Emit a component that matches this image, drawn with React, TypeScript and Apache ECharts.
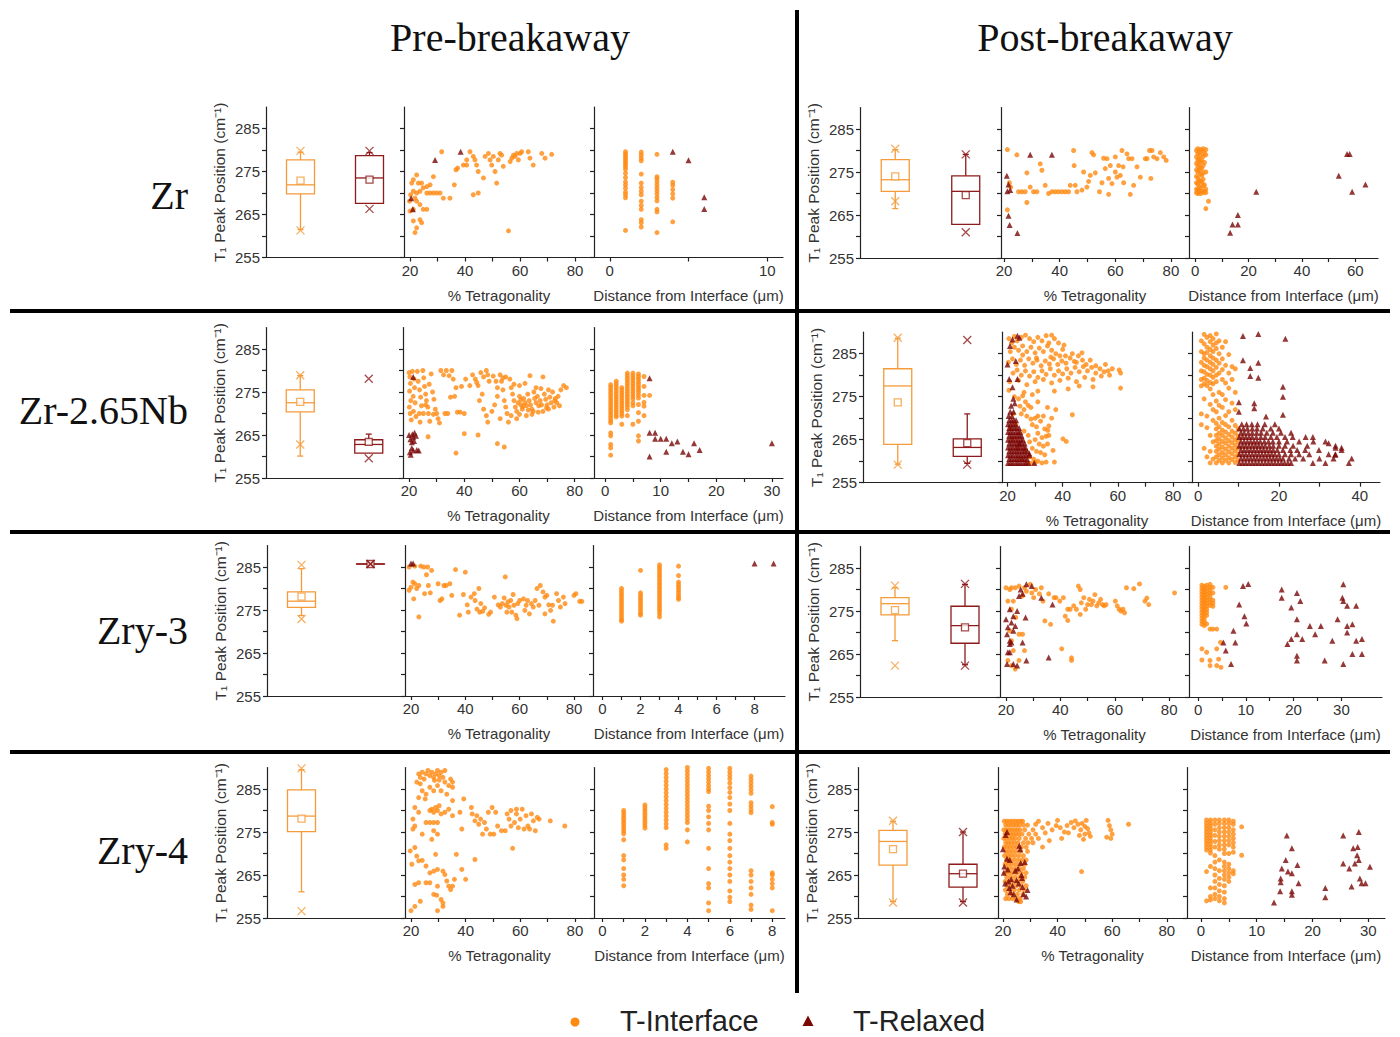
import React, { useEffect, useRef } from 'react';
import * as echarts from 'echarts';

type P = [number, number];
type Col = [number, number[]];
type Row = [number, number[]];

const cols = (c: Col[]): P[] => c.flatMap(([x, ys]) => ys.map((y) => [x, y] as P));
const rows = (r: Row[]): P[] => r.flatMap(([y, xs]) => xs.map((x) => [x, y] as P));

// ---------- titles / labels ----------
const columnTitles = ['Pre-breakaway', 'Post-breakaway'];
const alloyNames = ['Zr', 'Zr-2.65Nb', 'Zry-3', 'Zry-4'];
const legendNames = ['T-Interface', 'T-Relaxed'];
const yLabelValues = [255, 265, 275, 285];
const yTickValues = [255, 260, 265, 270, 275, 280, 285];
const tetLabelValues = [20, 40, 60, 80];
const tetTickValues = [20, 30, 40, 50, 60, 70, 80];

// box stats: [lowWhisker, q1, median, q3, highWhisker, mean, minX, maxX]
const zrPreBoxI = [261.5, 269.8, 271.9, 277.7, 279.5, 272.9, 261.3, 279.8];
const zrPreBoxR = [267.6, 267.6, 273.5, 278.7, 279.4, 273.1, 266.3, 279.8];
const zrPostBoxI = [266.5, 270.5, 273.2, 277.9, 280.2, 274.0, 268.2, 280.4];
const zrPostBoxR = [262.8, 262.8, 270.5, 274.1, 279.1, 269.6, 261.0, 279.1];
const nbPreBoxI = [260.1, 270.4, 272.5, 275.5, 278.8, 272.7, 262.8, 278.9];
const nbPreBoxR = [260.8, 260.8, 262.8, 263.9, 265.2, 263.4, 259.6, 278.1];
const nbPostBoxI = [259.3, 263.9, 277.5, 281.5, 288.6, 273.7, 259.2, 288.7];
const nbPostBoxR = [259.5, 261.1, 263.2, 265.2, 271.0, 264.2, 259.2, 288.2];
const zry3PreBoxI = [273.7, 275.6, 277.05, 279.2, 284.6, 278.1, 272.9, 285.5];
const zry3PreBoxR = [285.7, 285.7, 285.7, 285.7, 285.7, 285.7, 285.7, 285.7];
const zry3PostBoxI = [268.1, 274.1, 276.7, 278.1, 280.4, 275.2, 262.3, 280.9];
const zry3PostBoxR = [262.5, 267.5, 271.6, 276.1, 281.2, 271.2, 262.3, 281.3];
const zry4PreBoxI = [261.1, 275.1, 278.7, 284.8, 289.5, 278.1, 256.6, 289.8];
const zry4PostBoxI = [258.8, 267.3, 272.8, 275.4, 277.5, 271.0, 258.6, 277.6];
const zry4PostBoxR = [258.8, 262.2, 265.3, 267.5, 275.0, 265.3, 258.6, 275.0];

// ---------- Zr pre ----------
const zrPreTetI: P[] = [
  [20, 265.8], [21.2, 266.2], [19.8, 268.1], [20.2, 269.6], [21.2, 270.4], [22.4, 270], [23.6, 270.4], [20.6, 272.3], [21.2, 273.1], [22.4, 274.2],
  [23, 272.3], [24.2, 272.3], [24.8, 271.2], [26.1, 270], [27.3, 270], [28.5, 270], [29.7, 270], [30.9, 270], [27.3, 271.9], [26.1, 271.5],
  [21.8, 268.8], [22.4, 268.1], [23.6, 267.3], [24.8, 266.2], [26.1, 266.2], [21.2, 263.5], [23.6, 263.8], [24.2, 263.1], [22.4, 261.9], [21.8, 260.8],
  [28.5, 273.8], [32.1, 268.8], [34.5, 268.8], [36.1, 271.9], [36.7, 275.4], [31.5, 279.6], [39.4, 276.5], [40.6, 277.7], [41.8, 279.6], [43, 278.5],
  [43.6, 277.7], [44.2, 276.5], [44.8, 275], [43, 269.6], [44.8, 270], [46.7, 273.5], [47.3, 278.5], [48.5, 279.2], [49.1, 277.7], [49.7, 276.5],
  [50.3, 278.5], [50.9, 275], [51.5, 272.3], [52.1, 277.7], [52.7, 279.2], [53.3, 278.8], [53.9, 276.2], [55.8, 261.2], [56.4, 277.3], [57, 278.1],
  [57.6, 278.8], [58.2, 278.5], [58.8, 279.2], [59.4, 277.7], [60, 279.2], [60.6, 279.6], [63, 279.6], [63.6, 278.1], [64.8, 276.5], [67.9, 279.2],
  [69.1, 278.1], [71.5, 279], [40.6, 276.5], [37.3, 275.8],
];
const zrPreTetR: P[] = [[29.1, 277.7], [38.4, 279.6], [20.4, 268.8], [21, 266.2]];
const zrPreDistI: P[] = cols([
  [1, [279.6, 279.1, 278.6, 278.1, 277.6, 277.1, 276.6, 276.1, 275.5, 274.6, 273.6, 272.6, 271.9, 271.1, 270.2, 269.6, 268.9, 261.3]],
  [2, [279.5, 278.8, 278.1, 277.5, 274.4, 272.3, 271.3, 270.4, 269.6, 268.1, 267.1, 266.2, 263.8, 263.1, 262.1]],
  [3, [279, 273.8, 273.3, 272.6, 271.9, 271.2, 270.5, 269.8, 269, 268.2, 266.2, 265.6, 260.8]],
  [4, [272.5, 271.8, 270.8, 269.8, 268.8, 263.3]],
]);
const zrPreDistR: P[] = [[4, 279.6], [5, 277.6], [6, 269], [6, 266.3]];

// ---------- Zr post ----------
const zrPostTetI: P[] = [
  [21.2, 280.2], [21.9, 272.5], [22.4, 271.5], [21.2, 266.2], [24.6, 279], [25.2, 270.4], [26.4, 270.4], [27.6, 270.4], [28.2, 274.8], [28.2, 267.9],
  [29.4, 271.5], [30.6, 270.4], [31.8, 270.4], [33, 276.9], [33.6, 275.4], [34.8, 271.9], [36, 270], [37.2, 270.4], [38.4, 270.4], [39.6, 270.4],
  [40.8, 270.4], [42, 270.4], [43.2, 270.4], [43.8, 271.9], [45, 280], [45.2, 276.5], [45.6, 271.9], [46.2, 270.4], [48, 270.8], [48.6, 275],
  [49.8, 271.5], [50.4, 272.8], [51, 274.2], [51.6, 279.5], [52.2, 279], [52.8, 274.8], [54.3, 270.4], [55.2, 272.5], [55.8, 278.2], [56.4, 275.8],
  [57, 278.1], [57.6, 273.5], [57.6, 269.8], [58.2, 276.5], [58.8, 272.3], [60, 275], [60.6, 273.8], [61.2, 276.5], [61.8, 274.2], [62.4, 280],
  [62.8, 276.2], [63, 272.5], [64.2, 279.2], [64.8, 278.1], [65.4, 269.8], [66, 278.1], [66.6, 271.9], [67.8, 276.2], [69, 273.8], [71.4, 278.1],
  [72.3, 280], [73.2, 280], [72.8, 273.5], [73.8, 278.5], [75, 278.1], [76.2, 279.5], [77.4, 278.5], [78.3, 277.7], [70.8, 278.1], [60, 278.5],
];
const zrPostTetR: P[] = [[21, 274.1], [21.6, 272.1], [22.2, 270.8], [21.6, 264.8], [22, 262.7], [24.8, 260.8], [29.4, 279], [37.2, 279], [21.2, 270.5]];
const zrPostDistI: P[] = cols([
  [0.5, [280, 278.5, 277, 275.5, 274, 272.5, 271, 270.2]],
  [1, [280.4, 279.2, 277.8, 276.3, 275, 273.6, 272.2, 270.8, 270]],
  [1.5, [279.6, 278, 276.8, 275.3, 273, 271.6, 270.4]],
  [2, [280.2, 278.8, 277.4, 276, 274.5, 272.9, 271.3, 270]],
  [2.5, [279.8, 277.7, 275.8, 274.2, 272.6, 270.6]],
  [3, [280.4, 278.6, 276.5, 274.8, 273.3, 271.8, 270.2]],
  [3.5, [279.4, 277.2, 272, 270.5]],
  [4, [280.2, 279, 275, 271, 270.2, 266.5]],
  [5, [268.2]],
]);
const zrPostDistR: P[] = [[13.1, 260.9], [14, 262.8], [16, 262.8], [16, 265], [22.9, 270.4], [53.8, 274.1], [56.9, 279.2], [57.9, 279.2], [58.8, 270.4], [63.8, 272.1]];

// ---------- Zr-2.65Nb pre ----------
const nbPreTetI: P[] = [
  [20, 279.5], [20.3, 278.5], [20.5, 277], [20.2, 275.2], [20.6, 273], [20.1, 271.5], [20.4, 270], [20.8, 268.5], [21.2, 279.8], [21.8, 278],
  [22, 276], [21.5, 274], [22.2, 272.5], [21.6, 270.5], [22.5, 269.3], [23, 279.8], [23.3, 277.5], [23.8, 275.5], [24.2, 273.8], [24.5, 271.8],
  [23.7, 270], [24, 268], [25, 280], [25.3, 278.3], [25.6, 276.3], [26, 274.5], [26.3, 273], [26.8, 271.5], [27, 270], [27.5, 268.2],
  [28, 279.2], [27.3, 276.8], [28.5, 275], [29, 273.3], [29.5, 271], [30, 270], [30.5, 268.8], [31, 267.8], [28.8, 269.8], [26, 272],
  [25.2, 270], [26.9, 264.6], [31.5, 280], [32.5, 279], [33.5, 280], [34.5, 278.8], [35.5, 280], [36, 278], [37, 276], [36.5, 274],
  [35, 273.8], [34, 270], [33, 270], [37.5, 270.3], [38.5, 270.3], [40, 270], [39, 276.3], [40.5, 278], [42, 276.5], [43, 279],
  [44, 278], [44.5, 277.2], [45, 276.5], [46, 279.5], [47, 278.5], [48, 280], [48.5, 279], [49, 277.5], [46.5, 274.5], [45.5, 273],
  [47, 271], [48, 269.5], [48.5, 268], [50, 270.5], [51, 272], [52, 274], [50.5, 278.7], [51.5, 277.5], [52, 276], [53, 279],
  [53.5, 277.5], [54, 275.5], [54.5, 273], [55, 271.5], [55.5, 270], [56, 268], [54, 278.3], [55, 278.5], [56.5, 278], [57, 276],
  [57.5, 274.5], [58, 273], [58.5, 271.5], [59, 270.5], [59.5, 272.5], [60, 274], [60.5, 272], [61, 271], [61.5, 273.5], [62, 272.5],
  [62.5, 271.8], [63, 274.5], [63.5, 273], [64, 272], [64.5, 271], [65, 270.5], [65.5, 273.5], [66, 272.5], [66.5, 274], [67, 271.8],
  [67.5, 273], [68, 272], [68.5, 270.5], [69, 274.5], [69.5, 273.3], [70, 272], [70.5, 271], [71, 273.8], [71.5, 272.5], [72, 275],
  [72.5, 271.5], [73, 273.5], [73.5, 272.5], [74, 274], [74.5, 271.8], [75, 275.5], [76, 276.5], [77, 276], [63.8, 278.8], [68.5, 278.5],
  [66, 276], [62, 277], [60, 276.5], [58, 276.8], [64.5, 269.8], [57, 269.5], [60, 269.8], [62.5, 269.5], [59, 268.8], [70.5, 275.5],
  [53, 268.8], [40, 265.3], [45, 265], [52, 263], [54.5, 262.2], [37, 260.8], [60.5, 273.2], [61.2, 271.6], [63.2, 270.8], [66.8, 270.3],
  [69.8, 271.3], [72.8, 273], [65.2, 275], [67.8, 275.8],
];
const nbPreTetR: P[] = [
  [20, 265], [20.5, 264], [21, 263.3], [21.5, 264.5], [22, 265.5], [22.5, 264.8], [21, 262], [20.3, 261], [21.5, 261.4], [22.8, 261.5],
  [23.5, 261.4], [20.6, 260.4], [21.8, 263.6], [21.5, 278.5], [21.2, 265.2],
];
const nbPreDistI: P[] = cols([
  [1, [276.7, 276.1, 275.5, 274.9, 274.3, 273.7, 273.1, 272.5, 271.9, 271.3, 270.7, 270.1, 269.5, 268.9, 268.3, 267.8, 265.5, 264.8, 262.8, 262, 260.3]],
  [2, [277.5, 276.9, 276.3, 275.7, 275.1, 274.5, 273.9, 273.3, 272.7, 272.1, 271.5, 270.9, 270.3, 269.7, 269.2]],
  [3, [276, 275.4, 274.8, 274.2, 273.6, 273, 272.4, 271.8, 271.2, 270.6, 270, 269.4, 267.5]],
  [4, [279.4, 278.8, 278.2, 277.6, 277, 276.4, 275.8, 275.2, 274.6, 274, 273.4, 272.8, 272.2, 271.6, 270.9, 269.5]],
  [5, [279.4, 278.8, 278.2, 277.6, 277, 276.4, 275.8, 275.2, 274.6, 274, 273.4, 272.5, 271.8, 267.5]],
  [6, [279.2, 278.6, 278, 277.4, 276.8, 276.2, 275.6, 275, 274.3, 273.6, 272.1, 270.2, 268.2, 264.8, 263.6]],
  [7, [278.6, 276.3, 274.2, 272.6, 271.7, 269.5]],
  [8, [274.2]],
]);
const nbPreDistR: P[] = [
  [8, 278.2], [8, 265.5], [9, 265.5], [9, 264.1], [10, 264.1], [11, 264.1], [12, 263.1], [13, 263.5], [16, 263.1], [17, 261.5],
  [11, 261.1], [14, 261.1], [15, 260.5], [8, 260], [30, 263.1],
];

// ---------- Zr-2.65Nb post ----------
const nbPostTetI: P[] = [
  [20.5, 288.5], [21.5, 287.5], [22.5, 289], [23.5, 288], [25, 288.8], [26.5, 289.3], [28, 288.5], [29.5, 287.8], [31, 288.8], [32.5, 288],
  [34, 289.2], [36, 289.3], [37, 288.5], [38.5, 287.5], [40, 286], [21, 285.5], [22.5, 286.5], [24, 285.8], [25.5, 286.8], [27, 285.5],
  [28.5, 286.5], [30, 285.2], [31.5, 286.3], [33, 285.5], [34.5, 286.8], [36, 285.8], [37.5, 285], [39, 284.5], [20.3, 283], [21.8, 283.8],
  [23.2, 282.5], [24.7, 283.5], [26.2, 282.3], [27.7, 283.8], [29.2, 282.8], [30.7, 283.5], [32.2, 282.2], [33.7, 283.3], [35.2, 282.6], [36.7, 283.8],
  [38.2, 282.5], [39.7, 283.3], [41.2, 282.8], [42.7, 284], [44.2, 283.2], [45.7, 284.5], [47.2, 283.5], [48.5, 282.5], [50, 283.5], [22, 280.5],
  [23.5, 281.2], [25, 280], [26.5, 281], [28, 279.8], [29.5, 280.8], [31, 279.5], [32.5, 281], [34, 280.2], [35.5, 281.5], [37, 280],
  [38.5, 281], [40, 280.3], [41.5, 281.5], [43, 280.5], [44.5, 281.8], [46, 280.8], [47.5, 282], [49, 281], [50.5, 281.8], [52, 280.5],
  [53.5, 281.5], [55, 280.8], [56.5, 281], [20.8, 278.5], [24, 278.8], [27, 277.8], [30, 278.5], [33, 279], [36, 278.2], [39, 278.8],
  [42, 279.3], [45, 278.5], [48, 279.5], [51, 279], [54, 279.8], [57, 280], [60.5, 281.2], [61, 280.5], [61, 277], [20.5, 276.5],
  [26, 276], [31, 276.3], [37, 276.3], [42, 276.8], [46, 277.5], [51, 277.3], [41, 284.5], [43.5, 285], [40.5, 287], [45, 283],
  [52, 282.2], [55.5, 282.5], [58, 281.5], [47, 285.2], [35, 287.5], [25.5, 284.7], [30.5, 284], [35.7, 284.2],
  [22.5, 275], [24, 274.5], [25.5, 275.2], [26.5, 273.8], [24.5, 272.8], [26, 272], [27.5, 273], [28.5, 272.5], [25, 271], [27, 270.5],
  [28.5, 269.8], [30, 270], [31, 270.5], [29, 268.5], [30.5, 268], [32, 269.3], [33.5, 267.5], [31, 266.5], [32.5, 265.5], [34, 265.8],
  [35, 266], [30, 265], [31.5, 264], [33, 263.5], [34.5, 264], [29, 263], [30.5, 262.3], [32, 262], [33.5, 261.5], [28, 261],
  [29.5, 260.5], [31, 260], [32.5, 259.6], [34, 259.8], [27, 259.6], [28.5, 259.5], [30, 259.7], [35, 268.2], [36, 270], [34.6, 267.2],
  [37.5, 272], [40.1, 265.2], [41.3, 264.6], [43.5, 270.8], [36.5, 262.5], [37, 259.8], [22, 271], [23, 268.5], [21, 267.5], [26, 267],
  [27.5, 266], [28, 264.5], [26.5, 262.5], [25, 260.5], [23.5, 263], [22, 265.2], [33, 270.5], [34.5, 272.5], [29, 275.5], [31, 273.8],
];
const nbPostTetR: P[] = [
  ...rows([
    [259.6, [20.2, 21.1, 22.0, 23.0, 23.9, 24.8, 25.8, 26.7, 27.6, 29.7]],
    [260.5, [20.6, 21.5, 22.5, 23.4, 24.3, 25.3, 26.2, 27.1]],
    [261.4, [20.2, 21.1, 22.0, 23.0, 23.9, 24.8, 25.8, 26.7, 27.9]],
    [262.3, [20.6, 21.5, 22.5, 23.4, 24.3, 25.3, 26.2, 27.2]],
    [263.2, [20.2, 21.1, 22.0, 23.0, 23.9, 24.8, 25.8, 26.5]],
    [264.1, [20.6, 21.5, 22.5, 23.4, 24.3, 25.3, 26.2]],
    [265.0, [20.2, 21.1, 22.0, 23.0, 23.9, 24.8, 25.6]],
    [265.9, [20.6, 21.5, 22.5, 23.4, 24.3, 25.1]],
    [266.8, [20.2, 21.1, 22.0, 23.0, 23.9, 24.6]],
    [267.7, [20.6, 21.5, 22.5, 23.3, 24.2]],
    [268.6, [20.2, 21.1, 22.0, 23.0]],
    [269.5, [20.6, 21.5, 22.3, 23.1]],
    [270.5, [20.4, 21.6]],
    [271.5, [21.0, 22.2]],
  ]),
  [20.9, 286.8], [21.8, 288.3], [23.6, 289.2], [24.3, 288.7], [20, 282.5], [23, 283.3], [20.6, 279.1], [23.6, 279.1], [21.8, 277.2], [22.1, 274.5],
  [21.3, 272.9], [27.9, 261.8], [24.3, 264.1], [22.6, 273.5],
];
const nbPostDistI: P[] = cols([
  [0.8, [288, 285.5, 283, 281, 279, 277.5, 271, 268.5]],
  [1.5, [289.5, 287.3, 285, 284, 282.3, 280.8, 279.3, 278, 274.5, 263]],
  [2.2, [288.8, 286.5, 285.3, 283.5, 282, 280.2, 278.8, 277.6, 270.5, 267.8, 261]],
  [3.0, [289.2, 287.8, 286, 284.5, 283, 281.5, 280, 278.3, 276.8, 273.2, 266, 262.3, 259.6]],
  [3.7, [288.5, 287, 285.5, 284, 282.5, 281, 279.5, 278, 275.5, 272, 269.5, 264.5, 260.5]],
  [4.5, [289.6, 287.5, 286.2, 283.5, 281.8, 280, 278.5, 274, 271.5, 268.8, 267.5, 266, 264.8, 263.5, 262.3, 261, 259.6]],
  [5.2, [288, 285, 282.8, 280.5, 276, 273, 270, 268, 266.5, 265.2, 264, 262.8, 261.5, 260.2]],
  [6.0, [286.5, 283.8, 281.3, 279, 275.5, 272.5, 269, 267.2, 266, 264.6, 263.3, 262, 260.8, 259.6]],
  [6.8, [287.8, 282.3, 278.2, 274.3, 270.6, 268.5, 266.8, 265.4, 264.2, 262.8, 261.5, 260.2]],
  [7.6, [284.8, 280.5, 277, 271.5, 268, 266.2, 264.8, 263.5, 262.2, 260.8, 259.6]],
  [8.4, [282, 279, 273.5, 269.5, 267, 265.6, 264.3, 263, 261.7, 260.4]],
  [9.2, [281.5, 276, 272, 268.3, 266.5, 265, 263.7, 262.4, 261, 259.7]],
  [9.9, [267.5, 265.8, 264.5, 263, 261.6, 260.2]],
]);
const nbPostDistR: P[] = [
  ...rows([
    [259.6, [10.2, 11, 11.8, 12.6, 13.4, 14.2, 15, 15.8, 16.6, 17.4, 18.2, 19, 19.8, 20.6, 21.4, 22.2, 23, 28.4, 31.5, 37.3]],
    [260.6, [10.6, 11.4, 12.2, 13, 13.8, 14.6, 15.4, 16.2, 17, 17.8, 18.6, 19.4, 20.2, 21, 22.5, 24, 26, 30, 33.5, 38]],
    [261.6, [10.2, 11, 11.8, 12.6, 13.4, 14.2, 15, 15.8, 16.6, 17.4, 18.2, 19, 20, 21.5, 23, 25, 27.5, 32.3, 34]],
    [262.6, [10.6, 11.4, 12.2, 13, 13.8, 14.6, 15.4, 16.2, 17, 17.8, 18.6, 19.6, 21, 22.8, 24.5, 26.5, 29.9, 35.5]],
    [263.6, [10.2, 11, 11.8, 12.6, 13.4, 14.2, 15, 15.8, 16.6, 17.6, 18.6, 20, 21.5, 23.5, 27, 34]],
    [264.6, [10.6, 11.4, 12.2, 13, 13.8, 14.6, 15.4, 16.4, 17.4, 18.5, 20, 22, 25, 28.5, 31.5]],
    [265.6, [10.2, 11, 11.8, 12.6, 13.4, 14.4, 15.5, 16.6, 18, 19.5, 21.5, 23.4, 26.6, 28.4]],
    [266.6, [10.6, 11.4, 12.4, 13.4, 14.5, 15.6, 17, 18.5, 20.5, 23]],
    [267.6, [10.2, 11.2, 12.2, 13.4, 14.6, 16, 18, 20]],
    [268.6, [10.8, 12, 13.3, 14.7, 16.5, 19]],
  ]),
  [11.1, 289.1], [14.9, 289.6], [21.6, 288.5], [11.1, 283.5], [14.9, 282.9], [12.9, 281.7], [12.9, 279.8], [14.9, 279.4], [21, 277.3], [21, 275],
  [10.1, 273.7], [13.9, 273.5], [13.9, 272.3], [10.1, 271.5], [16.8, 270.4], [21, 270.8], [32.3, 264.2], [34, 263.1], [35.5, 263.1], [33.9, 261.5],
];

// ---------- Zry-3 pre ----------
const zry3PreTetI: P[] = [
  [19.3, 285], [21.4, 285.2], [23.6, 285.2], [24.7, 285], [19.3, 279.6], [20, 280.3], [20.7, 281.5], [21.4, 281.1], [22.1, 280], [22.9, 280.7],
  [21, 277.6], [22.9, 273.4], [25.7, 283.2], [26.1, 285], [26.4, 280.7], [25, 278.8], [27.1, 279], [27.6, 284.2], [30, 281.1], [32.1, 280.7],
  [30.7, 277.2], [31.4, 277.6], [32.9, 280.7], [34.3, 281.1], [36.4, 284.4], [35, 278.4], [37.9, 273.8], [39.3, 278.6], [40, 283.8], [40.7, 276.2],
  [41.1, 274.5], [42.1, 278], [43.3, 278.8], [43.6, 277.2], [44.3, 275.2], [45, 280], [45.7, 276.5], [45.3, 274.5], [46.4, 274.7], [47.1, 275.5],
  [48.6, 274], [49.3, 274.5], [50.7, 278], [52.1, 276.2], [52.9, 275.7], [53.6, 276.5], [54.3, 277.8], [54.7, 282.7], [55, 276.1], [55.3, 274.5],
  [55.7, 276.9], [56.1, 275.7], [56.7, 277.2], [57.1, 274.5], [57.6, 278.6], [57.9, 276.1], [58.6, 273.8], [59, 273], [59.3, 276.5], [60, 277.2],
  [61.4, 277.6], [61.9, 274.9], [62.4, 276.1], [62.9, 277.2], [63.6, 274.1], [64.3, 276.5], [65, 275.7], [65.7, 277.2], [66.4, 280], [67.1, 276.1],
  [67.6, 280.7], [68.6, 279.2], [69.3, 274.1], [70, 278.4], [70.7, 276.2], [71.4, 274.9], [72.1, 276.1], [72.4, 272.4], [73.6, 278.8], [74.3, 277.2],
  [75, 275.7], [76.1, 278], [76.7, 276.5], [80, 278.4], [80.7, 278.8], [82.1, 277], [82.9, 277], [69.3, 278],
];
const zry3PreTetR: P[] = [[20, 285.8], [20.8, 285.8]];
const zry3PreDistI: P[] = cols([
  [1, [280, 279.4, 278.8, 278.2, 277.6, 277, 276.4, 275.8, 275.2, 274.6, 274, 273.4, 272.8, 272.4]],
  [2, [284.2, 279, 278.4, 277.8, 277.2, 276.6, 276, 275.4, 274.8, 274.2, 273.8]],
  [3, [285.5, 284.9, 284.3, 283.7, 283.1, 282.5, 281.9, 281.3, 280.7, 280.1, 279.5, 278.9, 278.3, 277.7, 277.1, 276.5, 275.9, 275.3, 274.7, 274.1, 273.4]],
  [4, [285.2, 283, 281.5, 280.9, 280.3, 279.7, 279.1, 278.5, 277.9, 277.5]],
]);
const zry3PreDistR: P[] = [[8, 285.8], [9, 285.8]];

// ---------- Zry-3 post ----------
const zry3PostTetI: P[] = [
  [20, 280.4], [20.7, 277.3], [21.4, 280], [22, 280.4], [22.7, 277.3], [23.4, 280.4], [24.8, 280.8], [26.1, 278.5], [26.8, 280.4], [27.5, 279.6],
  [28.9, 281.2], [29.5, 279.2], [30.2, 278.1], [30.9, 280], [32.3, 279], [33, 280.4], [33.6, 277.3], [34.3, 272.7], [35.7, 279], [36.4, 271.9],
  [37.7, 278.1], [38.4, 278.1], [39.8, 277.3], [40.5, 266.2], [41.1, 278.1], [41.8, 273.8], [42.7, 275.4], [42.7, 272.8], [43.6, 275.4], [44.1, 264.1],
  [44.1, 263.5], [44.9, 276.2], [45.9, 275.4], [46.6, 280.8], [47.3, 280], [47.3, 274.2], [47.7, 276.9], [48.6, 278.1], [49.3, 275.4], [50, 276.5],
  [50.7, 277.7], [51.4, 276.5], [52, 277.3], [52.7, 278.8], [53.4, 276.2], [54.1, 276.9], [54.8, 277.7], [55.5, 276.5], [56.1, 276.2], [56.8, 276.5],
  [60.2, 277.3], [60.9, 276.2], [61.6, 275.4], [62.3, 275], [63, 275.4], [63.6, 274.6], [64.3, 280.4], [67, 280.2], [69.1, 281.3], [71.1, 277.3],
  [71.8, 278], [72.5, 276.5], [82, 279.2], [22, 275.4], [21.4, 270.4], [22, 268.1], [22.7, 265.8], [20.7, 263.5], [22, 262.3], [23.4, 261.5],
  [24.8, 263.5], [23.6, 273.5], [26.1, 269.6], [26.8, 265.8], [24.8, 269.6],
];
const zry3PostTetR: P[] = [
  [20, 273.1], [20.4, 269.6], [20.7, 271.2], [21.4, 267.3], [21.4, 265.4], [20.4, 262.7], [22, 272.3], [22.7, 273.8], [22.7, 270.4], [23.4, 271.5],
  [24.1, 275], [24.8, 278.5], [25.4, 280], [26.1, 279], [27.5, 281.2], [29.5, 280.8], [21.4, 268.1], [22, 267.7], [22.7, 262.7], [24.1, 262.3],
  [26.1, 267.7], [27.2, 273.5], [27.5, 263.5], [35.7, 264.2], [33, 278.1], [37.1, 276.5], [21.4, 275.4], [20.7, 265.4],
];
const zry3PostDistI: P[] = [
  ...cols([
    [0.8, [281, 280.3, 279.6, 278.9, 278.2, 277.5, 276.8, 276.1, 275.4, 274.7, 274, 273.3, 272.6, 271.9, 266.2, 263.6]],
    [1.3, [280.7, 280, 279.3, 278.6, 277.9, 277.2, 276.5, 275.8, 275.1, 274.4, 273.7, 273, 272.3, 271.6]],
    [1.8, [281, 280.3, 279.6, 278.9, 278.2, 277.5, 276.8, 276.1, 275.4, 274.7, 274, 272, 265.4]],
    [2.5, [281.2, 280.5, 279.8, 279.1, 278.4, 277.7, 277, 276.3, 270.8, 263.5, 262.3]],
    [3.1, [280.5, 279.2, 277.5, 276.8, 276.1, 270.8]],
  ]),
  [3.9, 262.3], [4.3, 263.8], [3.9, 266.2], [4.7, 267.7], [4.8, 261.9], [3.9, 270.8], [5.8, 280.5],
];
const zry3PostDistR: P[] = [
  [9.4, 280.8], [10.5, 281.3], [8.6, 276.5], [9.7, 273.8], [10.1, 272.1], [7.4, 270.4], [7.8, 267.7], [5.3, 267.7], [5.8, 265.8], [6.9, 262.7],
  [17.5, 280], [17.5, 278.1], [19.5, 275.8], [20.7, 279.2], [21.4, 277.3], [20.7, 273.1], [19.5, 268.5], [18.7, 267.3], [20.7, 269.6], [21.8, 268.5],
  [20.7, 264.6], [20.7, 263.5], [23.4, 271.5], [25.7, 271.5], [24.5, 269.6], [26.5, 263.5], [28.1, 268.1], [29.2, 273.1], [30.2, 278.1], [30.4, 281.2],
  [30.4, 277.3], [31.2, 276.2], [31.2, 271.5], [31.2, 270], [32.3, 271.9], [33.1, 276.2], [30.4, 262.7], [32.3, 265], [33.1, 268.1], [34.3, 268.5],
  [34.3, 265],
];

// ---------- Zry-4 pre ----------
const zry4PreTetI: P[] = [
  [22.8, 288.5], [23.4, 287.7], [24.1, 288.9], [24.8, 287.3], [25.5, 288.5], [26.2, 289.3], [26.9, 288.1], [27.6, 288.9], [28.3, 287.7], [29, 288.5],
  [29.7, 289.3], [30.3, 288.1], [31, 288.9], [31.7, 287.7], [32.4, 289.3], [28.6, 287], [30.3, 287.1], [32.4, 286.6], [34.5, 287.3], [35.2, 286.6],
  [33.8, 285.8], [35.2, 285.4], [23.4, 286.2], [24.1, 284.6], [25.5, 283.8], [26.9, 285.4], [28.3, 284.6], [29.7, 285.8], [31, 284.6], [33.1, 283.8],
  [35.2, 282.3], [39.3, 282.7], [22.8, 283], [22.1, 286.6], [25.2, 282.7],
  [21.4, 280.7], [22.8, 279.6], [26.9, 280], [27.6, 280.3], [28.3, 279.6], [29, 280.7], [29.7, 280], [30.3, 281.1], [31, 279.2], [32.4, 279.6],
  [33.8, 280.3], [35.2, 278.8], [37.9, 279.6], [25.5, 277.2], [26.9, 277.2], [28.3, 277.2], [29.7, 277.2], [21.4, 276.4], [20.7, 275.7], [24.1, 274.5],
  [28.3, 275.3], [29.7, 274.5], [38.6, 275.7],
  [42.1, 280.7], [42.4, 279.2], [43.4, 277.6], [44.1, 278.8], [44.8, 276.8], [45.5, 278], [46.2, 274.5], [46.9, 277.2], [47.6, 275.7], [48.3, 279.6],
  [49, 274.5], [49.7, 280.7], [50.3, 274.5], [51, 279.6], [51.7, 276.4], [53.1, 275.3], [54.5, 275.3], [55.2, 279.2], [55.9, 278], [56.6, 280],
  [56.6, 276.4], [57.2, 271.2], [57.9, 277.2], [58.6, 279.2], [59.3, 276], [60, 278], [60.7, 280.3], [61.4, 275.7], [62.1, 278.8], [62.8, 276.4],
  [63.4, 275.7], [64.1, 279.2], [64.8, 277.6], [65.5, 275.3], [66.2, 278.4], [66.9, 278], [71, 277.6], [76.3, 276.4], [58.6, 280.3],
  [20.7, 278], [19.7, 270.6], [20.3, 267.5], [21.4, 271.4], [22.1, 269.4], [22.8, 268.3], [24.1, 268.4], [25.5, 267.1], [26.9, 265.5], [28.3, 265.9],
  [29.7, 266.3], [29, 269.8], [27.6, 273.3], [31.7, 265.9], [32.4, 265.1], [33.1, 263.6], [33.8, 262.4], [34.5, 261.6], [35.2, 262.4], [35.9, 264],
  [36.6, 269.8], [38.6, 266.3], [40, 264], [43.4, 268.6], [21.4, 262.8], [22.8, 263.2], [25.5, 263.2], [26.9, 263.2], [28.3, 260.5], [29.7, 262.4],
  [31, 259.3], [31.7, 258.5], [23.4, 258.9], [21.4, 257.7], [20, 256.7], [29.7, 256.7], [31.7, 257.7], [29.4, 260.3],
];
const zry4PreDistI: P[] = cols([
  [1, [280, 279.4, 278.8, 278.2, 277.6, 277, 276.4, 275.8, 275.2, 274.6, 273.2, 269.5, 268.5, 266.5, 265, 264, 262.5]],
  [2, [281.3, 280.7, 280.1, 279.5, 278.9, 278.3, 277.7, 277.1, 276.5, 275.9]],
  [3, [289.5, 288.6, 287.7, 286.8, 285.9, 285, 284.1, 283.2, 282.3, 281.4, 280.5, 279.6, 278.7, 277.8, 276.9, 276, 272, 271.2]],
  [4, [290, 289.2, 288.4, 287.6, 286.8, 286, 285.2, 284.4, 283.6, 282.8, 282, 281.2, 280.4, 279.6, 278.8, 278, 277.2, 275.5, 272.7]],
  [5, [289.8, 289, 288.2, 287.4, 286.6, 285.8, 285, 284.4, 281, 280, 278.5, 277, 275.5, 271.2, 266.5, 263, 262, 258.5, 256.7]],
  [6, [289.8, 289, 288.2, 287.4, 286.4, 285.3, 284.2, 283, 281.5, 280, 277, 274.5, 273, 271.2, 269.5, 268, 266.5, 265, 263.5, 261.3, 259.8, 258.8]],
  [7, [288, 287.2, 286.4, 285.6, 284.8, 284, 281.8, 281, 280.2, 279.5, 266, 265, 263.5, 262, 260.5, 258, 257]],
  [8, [280.9, 277.2, 276.8, 265.5, 265, 264, 263, 262, 256.7]],
]);

// ---------- Zry-4 post ----------
const zry4PostTetI: P[] = [
  ...rows([
    [277.5, [20.5, 21.5, 22.5, 23.5, 24.5, 25.5, 26.5, 27.2]],
    [276.6, [21, 22, 23, 24, 25, 26, 27.5, 29]],
    [275.5, [20.3, 21.3, 22.3, 23.3, 24.3, 25.3, 26.3, 28, 31]],
    [274.5, [20.8, 21.8, 22.8, 23.8, 24.8, 25.8, 27, 29.5, 32]],
    [273.5, [20.3, 21.3, 22.5, 23.5, 24.5, 26, 28.3, 30.5, 33]],
    [272.5, [21, 22, 23, 24.2, 25.5, 27.5, 29.2, 31]],
    [271.5, [20.5, 21.5, 22.6, 23.8, 25, 26.8, 28.5, 34.5]],
    [270.5, [21.2, 22.3, 23.5, 24.8, 26.5, 29]],
    [269.5, [20.6, 21.8, 23, 24.3, 25.8, 27.5]],
    [268.5, [21.3, 22.5, 24, 25.5, 27, 28.5]],
    [267.5, [20.8, 22, 23.3, 24.8, 26.3, 28]],
    [266.5, [21.5, 22.8, 24.3, 26, 27.5]],
    [265.5, [20.8, 22.2, 23.6, 25.2, 26.8, 28.5]],
    [264.5, [21.4, 22.9, 24.5, 26.2, 28]],
    [263.5, [20.8, 22.3, 23.9, 25.6, 27.3]],
    [262.5, [21.5, 23.1, 24.8, 26.6, 28.5]],
    [261.5, [20.9, 22.5, 24.2, 26, 27.8]],
    [260.5, [21.6, 23.4, 25.3, 27.3]],
    [259.5, [21, 22.2, 23.5, 24.8, 26.3]],
    [258.8, [25.8, 26.5]],
  ]),
  [32, 276.8], [33, 277.5], [34.5, 276], [35.5, 274.8], [36.5, 277], [38, 275.5], [39.5, 276.5], [40, 277.7], [41, 276], [42.5, 275],
  [43.5, 276.5], [45, 277.2], [46, 276], [46.5, 277.6], [47.5, 276.8], [48.5, 275.5], [49, 277], [50, 276.3], [50.5, 277.7], [51, 275.8],
  [51.5, 274.8], [52, 274], [50, 274.5], [48, 274.2], [49.5, 273.3], [58.5, 277.7], [59, 276.5], [59.5, 275.5], [60, 274.5], [58, 273.8],
  [59.5, 273.5], [66, 276.8], [48.8, 265.8], [37, 273], [44, 274.8], [41.5, 273.5],
];
const zry4PostTetR: P[] = [
  [20, 271], [20.5, 267], [20.3, 265.5], [20.8, 263], [21, 274.3], [21.5, 268.8], [21.8, 266.3], [22, 263.5], [22.3, 262], [22.8, 261],
  [21.5, 275], [23, 264], [23.5, 262.5], [24, 260.5], [25, 259.3], [25.5, 266.5], [25.8, 263], [26, 271.8], [26.3, 271], [26.5, 267.8],
  [26.8, 265], [27, 264.3], [27.2, 262.2], [27.5, 260.5], [28, 268], [28.5, 260], [29, 261.5], [24.5, 266], [22.5, 268.5], [25, 263.8],
];
const zry4PostDistI: P[] = cols([
  [1, [277.8, 277.1, 276.4, 275.7, 275, 274.3, 273.6, 272.9, 272.2, 271.5, 270.8, 265.8, 259]],
  [1.7, [277.8, 277.1, 276.4, 275.7, 275, 274.3, 273.6, 272.9, 272.2, 271.5, 270.8, 270.1, 267, 262, 260, 259.2]],
  [2.5, [277.8, 276.8, 275.5, 274.2, 272.8, 271.5, 269.5, 268, 266.5, 265, 263.5, 262, 260.5, 259.5]],
  [3.3, [277.8, 277, 276, 275, 274, 273, 272, 271, 268.5, 266, 264.2, 262.8, 261.3, 260, 259]],
  [4.2, [277.8, 277, 276, 275, 274, 273, 272, 271, 270, 268, 267, 266, 265, 264, 262.5, 261, 259.5, 258.5]],
  [5, [277.8, 277, 276, 275, 274, 273, 272, 270, 267.5, 266.5, 265.5, 264.5, 263.5]],
  [5.8, [277.5, 276.8, 275.5, 274.5, 273.5, 272.5, 271.5, 270.3, 266, 265.3]],
  [7.3, [276.2, 269.6]],
]);
const zry4PostDistR: P[] = [
  [13.1, 258.6], [14.2, 261.2], [14.3, 263.3], [14.3, 264.2], [14.5, 266.5], [15.4, 274.2], [15.2, 268.5], [15.6, 265.8], [16.3, 271.2], [16.3, 265.4],
  [16.3, 261.2], [16.3, 260.4], [17.3, 267.3], [17.5, 263.1], [22.3, 262], [22.3, 259.8], [25.5, 274.2], [25.5, 267.7], [26.6, 266.5], [27.3, 271.2],
  [27.6, 267.7], [28, 269.6], [28.1, 271.5], [28.3, 275], [28.3, 268.5], [28.5, 264.2], [28.8, 263.1], [29.5, 263.1], [27, 262.3], [30.3, 266.9],
];

// distance-axis tick labels per panel
const distLabelsZrPre = [0, 10];
const distLabelsZrPost = [0, 20, 40, 60];
const distLabelsNbPre = [0, 10, 20, 30];
const distLabelsNbPost = [0, 20, 40];
const distLabelsZry3Pre = [0, 2, 4, 6, 8];
const distLabelsZry3Post = [0, 10, 20, 30];
const distLabelsZry4Pre = [0, 2, 4, 6, 8];
const distLabelsZry4Post = [0, 10, 20, 30];

const panels = [
  { boxI: zrPreBoxI, boxR: zrPreBoxR, tetI: zrPreTetI, tetR: zrPreTetR, distI: zrPreDistI, distR: zrPreDistR, dl: distLabelsZrPre },
  { boxI: zrPostBoxI, boxR: zrPostBoxR, tetI: zrPostTetI, tetR: zrPostTetR, distI: zrPostDistI, distR: zrPostDistR, dl: distLabelsZrPost },
  { boxI: nbPreBoxI, boxR: nbPreBoxR, tetI: nbPreTetI, tetR: nbPreTetR, distI: nbPreDistI, distR: nbPreDistR, dl: distLabelsNbPre },
  { boxI: nbPostBoxI, boxR: nbPostBoxR, tetI: nbPostTetI, tetR: nbPostTetR, distI: nbPostDistI, distR: nbPostDistR, dl: distLabelsNbPost },
  { boxI: zry3PreBoxI, boxR: zry3PreBoxR, tetI: zry3PreTetI, tetR: zry3PreTetR, distI: zry3PreDistI, distR: zry3PreDistR, dl: distLabelsZry3Pre },
  { boxI: zry3PostBoxI, boxR: zry3PostBoxR, tetI: zry3PostTetI, tetR: zry3PostTetR, distI: zry3PostDistI, distR: zry3PostDistR, dl: distLabelsZry3Post },
  { boxI: zry4PreBoxI, boxR: null as number[] | null, tetI: zry4PreTetI, tetR: [] as P[], distI: zry4PreDistI, distR: [] as P[], dl: distLabelsZry4Pre },
  { boxI: zry4PostBoxI, boxR: zry4PostBoxR, tetI: zry4PostTetI, tetR: zry4PostTetR, distI: zry4PostDistI, distR: zry4PostDistR, dl: distLabelsZry4Post },
];

// ---------- layout (pixels) ----------
const LAYOUT = [
  { B: 257.5, bx: 266, s1: 404, s2: 594, end: 783, tet: [17.8, 86.9], dist: [-1, 11] },
  { B: 258, bx: 860, s1: 1001, s2: 1189, end: 1378, tet: [18.9, 86.5], dist: [-2.3, 68.5] },
  { B: 478, bx: 266, s1: 403, s2: 594, end: 783, tet: [17.8, 87], dist: [-2, 32] },
  { B: 482.7, bx: 863, s1: 1002, s2: 1192, end: 1380, tet: [18, 86.9], dist: [-1.5, 45] },
  { B: 696, bx: 267, s1: 405, s2: 593, end: 785, tet: [17.8, 87], dist: [-0.5, 9.6] },
  { B: 697, bx: 860, s1: 1000, s2: 1189, end: 1382, tet: [17.8, 87.3], dist: [-1.9, 38.5] },
  { B: 918, bx: 267, s1: 405, s2: 594, end: 785, tet: [17.8, 87], dist: [-0.4, 8.6] },
  { B: 918, bx: 858, s1: 998, s2: 1187, end: 1385, tet: [18.2, 87.4], dist: [-2.5, 33] },
];
const PX = 4.3;
const Y_MIN = 255;
const Y_MAX = 290;

const C_I = '#FF8A12';
const C_R = '#7A0606';
const C_BOX_I = '#F59B3A';
const C_BOX_R = '#8E1B1B';
const AX = '#222';
const SANS = "'Liberation Sans', Arial, sans-serif";
const SERIF = "'Liberation Serif', 'Times New Roman', serif";
const XPATH = 'path://M0,0L10,10M10,0L0,10';

function distTicks(labels: number[]): number[] {
  const out: number[] = [];
  for (let i = 0; i < labels.length; i++) {
    out.push(labels[i]);
    if (i < labels.length - 1) out.push((labels[i] + labels[i + 1]) / 2);
  }
  return out;
}

function boxSeries(ai: number, x: number, b: number[], color: string): any[] {
  const [lo, q1, med, q3, hi, mean, xmin, xmax] = b;
  const lw = 1.3;
  return [
    {
      type: 'custom',
      xAxisIndex: ai,
      yAxisIndex: ai,
      silent: true,
      z: 3,
      data: [[x, lo, q1, med, q3, hi]],
      encode: { x: 0, y: [1, 2, 3, 4, 5] },
      renderItem: (_p: any, api: any) => {
        const cx = api.coord([api.value(0), api.value(3)])[0];
        const yLo = api.coord([api.value(0), api.value(1)])[1];
        const yQ1 = api.coord([api.value(0), api.value(2)])[1];
        const yMed = api.coord([api.value(0), api.value(3)])[1];
        const yQ3 = api.coord([api.value(0), api.value(4)])[1];
        const yHi = api.coord([api.value(0), api.value(5)])[1];
        const hw = 14;
        const cw = 3;
        const st = { stroke: color, lineWidth: lw, fill: 'none' };
        const ch: any[] = [
          { type: 'rect', shape: { x: cx - hw, y: yQ3, width: hw * 2, height: Math.max(yQ1 - yQ3, 0.1) }, style: st },
          { type: 'line', shape: { x1: cx - hw, y1: yMed, x2: cx + hw, y2: yMed }, style: st },
        ];
        if (yHi < yQ3 - 0.5) {
          ch.push({ type: 'line', shape: { x1: cx, y1: yQ3, x2: cx, y2: yHi }, style: st });
          ch.push({ type: 'line', shape: { x1: cx - cw, y1: yHi, x2: cx + cw, y2: yHi }, style: st });
        }
        if (yLo > yQ1 + 0.5) {
          ch.push({ type: 'line', shape: { x1: cx, y1: yQ1, x2: cx, y2: yLo }, style: st });
          ch.push({ type: 'line', shape: { x1: cx - cw, y1: yLo, x2: cx + cw, y2: yLo }, style: st });
        }
        return { type: 'group', children: ch };
      },
    },
    {
      type: 'scatter',
      xAxisIndex: ai,
      yAxisIndex: ai,
      z: 4,
      silent: true,
      data: [[x, mean]],
      symbol: 'rect',
      symbolSize: 7,
      itemStyle: { color: '#ffffff', borderColor: color, borderWidth: lw },
    },
    {
      type: 'scatter',
      xAxisIndex: ai,
      yAxisIndex: ai,
      z: 4,
      silent: true,
      data: [[x, xmin], [x, xmax]],
      symbol: XPATH,
      symbolSize: 8,
      itemStyle: { color: 'rgba(0,0,0,0)', borderColor: color, borderWidth: lw },
    },
  ];
}

function buildOption(): any {
  const grid: any[] = [];
  const xAxis: any[] = [];
  const yAxis: any[] = [];
  const series: any[] = [];
  const lineStyle = { color: AX, width: 1.2 };
  const labelStyle = { color: '#333', fontSize: 15, fontFamily: SANS };

  panels.forEach((p, k) => {
    const L = LAYOUT[k];
    const height = (Y_MAX - Y_MIN) * PX;
    const top = L.B - height;
    const g0 = k * 3;
    grid.push({ left: L.bx, top, width: L.s1 - L.bx, height });
    grid.push({ left: L.s1, top, width: L.s2 - L.s1, height });
    grid.push({ left: L.s2, top, width: L.end - L.s2, height });

    for (let j = 0; j < 3; j++) {
      yAxis.push({
        type: 'value',
        gridIndex: g0 + j,
        min: Y_MIN,
        max: Y_MAX,
        position: 'left',
        axisLine: { show: true, onZero: false, lineStyle },
        axisTick: { show: true, length: 4, customValues: yTickValues, lineStyle },
        axisLabel: j === 0 ? { show: true, customValues: yLabelValues, margin: 6, ...labelStyle } : { show: false },
        splitLine: { show: false },
        name: j === 0 ? 'T₁ Peak Position (cm⁻¹)' : '',
        nameLocation: 'middle',
        nameRotate: 90,
        nameGap: 39,
        nameTextStyle: { ...labelStyle, fontSize: 15.5 },
      });
    }
    xAxis.push({
      type: 'value',
      gridIndex: g0,
      min: 0,
      max: 4,
      position: 'bottom',
      axisLine: { show: true, onZero: false, lineStyle },
      axisTick: { show: false },
      axisLabel: { show: false },
      splitLine: { show: false },
    });
    xAxis.push({
      type: 'value',
      gridIndex: g0 + 1,
      min: L.tet[0],
      max: L.tet[1],
      position: 'bottom',
      axisLine: { show: true, onZero: false, lineStyle },
      axisTick: { show: true, length: 4, customValues: tetTickValues, lineStyle },
      axisLabel: { show: true, customValues: tetLabelValues, margin: 5, ...labelStyle },
      splitLine: { show: false },
      name: '% Tetragonality',
      nameLocation: 'middle',
      nameGap: 30,
      nameTextStyle: labelStyle,
    });
    xAxis.push({
      type: 'value',
      gridIndex: g0 + 2,
      min: L.dist[0],
      max: L.dist[1],
      position: 'bottom',
      axisLine: { show: true, onZero: false, lineStyle },
      axisTick: { show: true, length: 4, customValues: distTicks(p.dl), lineStyle },
      axisLabel: { show: true, customValues: p.dl, margin: 5, ...labelStyle },
      splitLine: { show: false },
      name: 'Distance from Interface (μm)',
      nameLocation: 'middle',
      nameGap: 30,
      nameTextStyle: labelStyle,
    });

    series.push(...boxSeries(g0, 1, p.boxI, C_BOX_I));
    if (p.boxR) series.push(...boxSeries(g0, 3, p.boxR, C_BOX_R));

    const ptI = { type: 'scatter', symbol: 'circle', symbolSize: 5, silent: true, itemStyle: { color: C_I } };
    const ptR = { type: 'scatter', symbol: 'triangle', symbolSize: 6, silent: true, itemStyle: { color: C_R } };
    series.push({ ...ptI, xAxisIndex: g0 + 1, yAxisIndex: g0 + 1, data: p.tetI, z: 2 });
    if (p.tetR.length) series.push({ ...ptR, xAxisIndex: g0 + 1, yAxisIndex: g0 + 1, data: p.tetR, z: 3 });
    series.push({ ...ptI, xAxisIndex: g0 + 2, yAxisIndex: g0 + 2, data: p.distI, z: 2 });
    if (p.distR.length) series.push({ ...ptR, xAxisIndex: g0 + 2, yAxisIndex: g0 + 2, data: p.distR, z: 3 });
  });

  const graphic: any[] = [
    { type: 'text', x: 510, y: 37, style: { text: columnTitles[0], font: `40px ${SERIF}`, fill: '#111', align: 'center', verticalAlign: 'middle' } },
    { type: 'text', x: 1105, y: 37, style: { text: columnTitles[1], font: `40px ${SERIF}`, fill: '#111', align: 'center', verticalAlign: 'middle' } },
    { type: 'text', x: 188, y: 195, style: { text: alloyNames[0], font: `40px ${SERIF}`, fill: '#111', align: 'right', verticalAlign: 'middle' } },
    { type: 'text', x: 188, y: 410, style: { text: alloyNames[1], font: `40px ${SERIF}`, fill: '#111', align: 'right', verticalAlign: 'middle' } },
    { type: 'text', x: 188, y: 630, style: { text: alloyNames[2], font: `40px ${SERIF}`, fill: '#111', align: 'right', verticalAlign: 'middle' } },
    { type: 'text', x: 188, y: 850, style: { text: alloyNames[3], font: `40px ${SERIF}`, fill: '#111', align: 'right', verticalAlign: 'middle' } },
    { type: 'line', shape: { x1: 797, y1: 10, x2: 797, y2: 993 }, style: { stroke: '#000', lineWidth: 4 } },
    { type: 'line', shape: { x1: 10, y1: 311, x2: 1390, y2: 311 }, style: { stroke: '#000', lineWidth: 4 } },
    { type: 'line', shape: { x1: 10, y1: 532, x2: 1390, y2: 532 }, style: { stroke: '#000', lineWidth: 4 } },
    { type: 'line', shape: { x1: 10, y1: 752, x2: 1390, y2: 752 }, style: { stroke: '#000', lineWidth: 4 } },
    { type: 'circle', shape: { cx: 575, cy: 1022, r: 4.5 }, style: { fill: C_I } },
    { type: 'text', x: 620, y: 1021, style: { text: legendNames[0], font: `29px ${SANS}`, fill: '#222', align: 'left', verticalAlign: 'middle' } },
    { type: 'polygon', shape: { points: [[808, 1015.5], [802.5, 1026], [813.5, 1026]] }, style: { fill: C_R } },
    { type: 'text', x: 853, y: 1021, style: { text: legendNames[1], font: `29px ${SANS}`, fill: '#222', align: 'left', verticalAlign: 'middle' } },
  ];

  return { animation: false, backgroundColor: '#ffffff', grid, xAxis, yAxis, series, graphic };
}

export default function App() {
  const ref = useRef<HTMLDivElement>(null);
  useEffect(() => {
    if (!ref.current) return;
    const chart = echarts.init(ref.current, undefined, { renderer: 'svg' });
    chart.setOption(buildOption());
    return () => chart.dispose();
  }, []);
  return <div ref={ref} style={{ position: 'fixed', left: 0, top: 0, width: 1400, height: 1037, background: '#fff' }} />;
}
